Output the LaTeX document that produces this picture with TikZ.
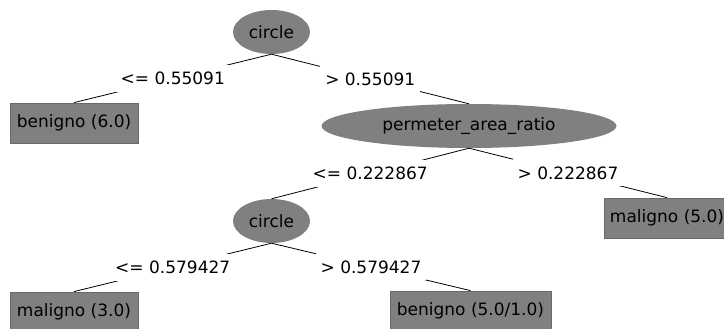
\documentclass[tikz,border=0pt]{standalone}
\usepackage{fontspec}
\setmainfont{DejaVu Sans}
\usetikzlibrary{shapes.geometric}
\definecolor{nodegray}{RGB}{128,128,128}
\definecolor{edgegray}{RGB}{105,105,105}
\begin{document}
\begin{tikzpicture}[x=1pt,y=-1pt,
  font=\fontsize{17}{20}\selectfont,
  test/.style={ellipse,fill=nodegray,inner sep=0pt,minimum height=44pt},
  leaf/.style={rectangle,fill=nodegray,draw=edgegray,line width=0.8pt,
    inner sep=0pt,minimum height=40pt},
  branch/.style={line width=0.8pt,black},
  cond/.style={fill=white,inner xsep=5pt,inner ysep=0pt,minimum height=27pt}]
  \useasboundingbox (0,0) rectangle (724,329);
  \begin{scope}
  \clip (0,0) rectangle (724,329);
  % decision nodes
  \node[test,minimum width=77pt]  (root) at (271.5,32)  {circle};
  \node[test,minimum width=295pt] (perm) at (469,126)   {permeter\_area\_ratio};
  \node[test,minimum width=77pt]  (circ) at (271.5,221) {circle};
  % leaves
  \node[leaf,minimum width=128pt] (b6)  at (74,123)    {benigno (6.0)};
  \node[leaf,minimum width=126pt] (m5)  at (667,218)   {maligno (5.0)};
  \node[leaf,minimum width=128pt] (m3)  at (74,312)    {maligno (3.0)};
  \node[leaf,minimum width=161pt] (b51) at (470.5,311) {benigno (5.0/1.0)};
  % branches, each with its split condition over the middle of the line
  \draw[branch] (root.south) -- node[cond]{<= 0.55091} (b6.north);
  \draw[branch] (root.south) -- node[cond]{> 0.55091} (perm.north);
  \draw[branch] (perm.south) -- node[cond]{<= 0.222867} (circ.north);
  \draw[branch] (perm.south) -- node[cond]{> 0.222867} (m5.north);
  \draw[branch] (circ.south) -- node[cond]{<= 0.579427} (m3.north);
  \draw[branch] (circ.south) -- node[cond]{> 0.579427} (b51.north);
  \end{scope}
\end{tikzpicture}
\end{document}
